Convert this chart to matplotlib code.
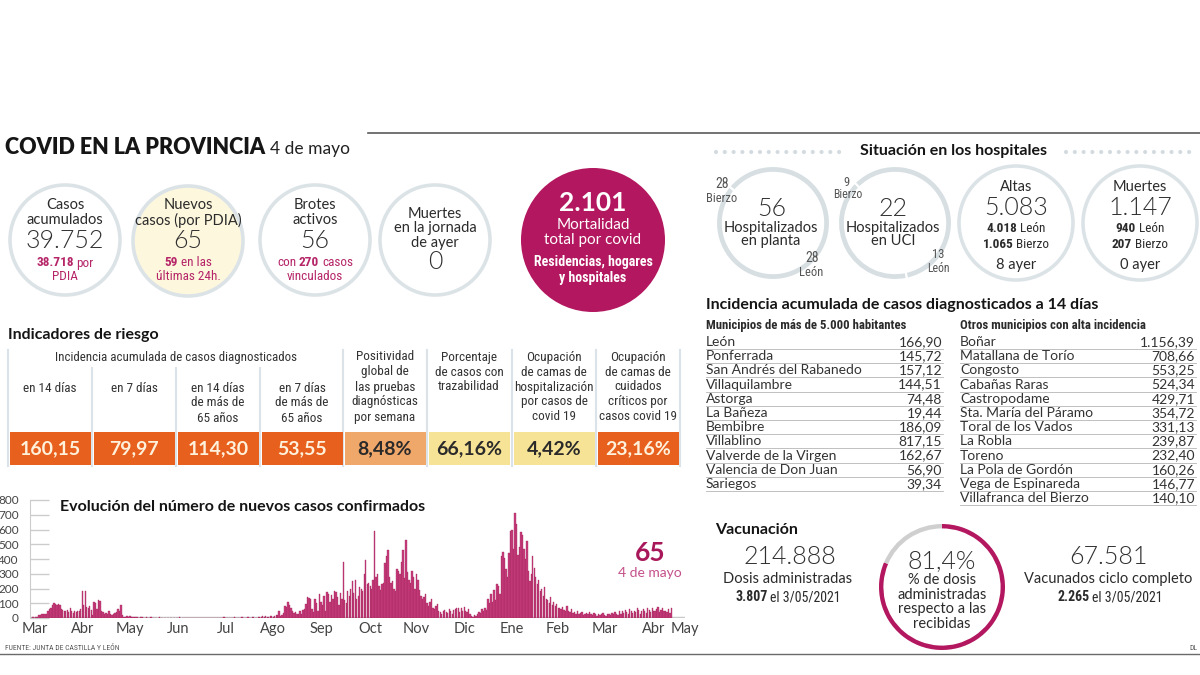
import matplotlib
matplotlib.use('Agg')
import matplotlib.pyplot as plt
from matplotlib.patches import Circle, Rectangle
from matplotlib import font_manager
import numpy as np

names = {f.name for f in font_manager.fontManager.ttflist}
SANS = ['Lato', 'DejaVu Sans']
COND = [n for n in ['Roboto Condensed', 'Liberation Sans Narrow', 'Open Sans Condensed'] if n in names][:1] + ['Lato', 'DejaVu Sans']
plt.rcParams['font.family'] = SANS

# ---------------- data ----------------
mar20 = [2, 5, 3, 8, 10, 20, 22, 25, 25, 28, 30, 45, 60, 70, 85, 105, 95, 90, 92, 88, 60, 55, 50, 45, 55, 40, 65, 50, 35, 45, 40]
apr20 = [50, 45, 60, 185, 90, 185, 75, 65, 80, 55, 20, 110, 100, 60, 120, 115, 45, 40, 30, 35, 25, 45, 30, 20, 25, 35, 40, 60, 50, 90]
may20 = [20, 10, 8, 12, 6, 15, 8, 5, 6, 4, 5, 3, 4, 6, 3, 2, 4, 3, 2, 5, 3, 2, 1, 3, 2, 4, 2, 1, 3, 2, 2]
jun20 = [2, 1, 3, 2, 0, 1, 2, 4, 1, 2, 3, 1, 0, 2, 1, 3, 2, 1, 0, 2, 1, 1, 3, 2, 0, 1, 2, 1, 3, 2]
jul20 = [2, 1, 0, 3, 2, 1, 2, 4, 1, 2, 3, 2, 1, 3, 5, 2, 1, 2, 3, 4, 2, 1, 3, 6, 2, 3, 4, 5, 3, 2, 6]
aug20 = [5, 8, 15, 10, 12, 8, 10, 15, 12, 10, 14, 18, 20, 50, 15, 20, 35, 80, 75, 110, 90, 70, 50, 35, 40, 30, 25, 45, 30, 55, 60]
sep20 = [95, 140, 135, 130, 60, 40, 130, 100, 50, 165, 110, 90, 150, 50, 175, 160, 110, 155, 130, 180, 175, 140, 90, 170, 130, 380, 120, 100, 180, 150]
oct20 = [200, 250, 170, 260, 130, 150, 210, 200, 180, 300, 395, 230, 240, 220, 200, 260, 590, 280, 300, 220, 190, 230, 240, 370, 420, 460, 280, 240, 250, 200, 180]
nov20 = [330, 320, 300, 380, 460, 270, 530, 310, 260, 240, 320, 280, 200, 300, 260, 190, 150, 130, 140, 160, 100, 80, 110, 130, 70, 60, 80, 95, 50, 40]
dec20 = [30, 45, 55, 40, 35, 60, 45, 30, 55, 60, 65, 65, 40, 70, 50, 75, 45, 40, 60, 30, 15, 10, 20, 15, 30, 40, 35, 60, 45, 70, 55]
jan21 = [130, 100, 160, 110, 190, 120, 230, 220, 160, 420, 450, 410, 330, 280, 440, 590, 600, 470, 710, 640, 430, 480, 580, 560, 470, 400, 520, 320, 250, 300, 420]
feb21 = [340, 280, 230, 260, 180, 200, 150, 210, 130, 120, 100, 140, 90, 110, 80, 95, 70, 65, 60, 75, 55, 50, 80, 45, 40, 60, 35, 40]
mar21 = [30, 45, 25, 35, 40, 20, 30, 35, 25, 40, 30, 20, 35, 25, 15, 30, 20, 25, 35, 20, 15, 25, 30, 20, 35, 25, 40, 30, 20, 45, 30]
apr21 = [50, 35, 55, 40, 30, 60, 45, 35, 50, 40, 65, 55, 30, 45, 60, 50, 35, 65, 55, 40, 70, 50, 45, 60, 75, 40, 55, 70, 45, 50]
may21 = [40, 60, 35, 65]
daily_cases = (mar20 + apr20 + may20 + jun20 + jul20 + aug20 + sep20 + oct20 + nov20
               + dec20 + jan21 + feb21 + mar21 + apr21 + may21)

month_labels = ['Mar', 'Abr', 'May', 'Jun', 'Jul', 'Ago', 'Sep', 'Oct', 'Nov', 'Dic',
                'Ene', 'Feb', 'Mar', 'Abr', 'May']
month_tick_pos = [2, 34, 66, 98, 130, 162, 194, 227, 258, 290, 322, 353, 384, 417, 438]
y_ticks = [0, 100, 200, 300, 400, 500, 600, 700, 800]

# summary circles
casos_acumulados = '39.752'
casos_pdia = '38.718'
nuevos_casos = '65'
nuevos_24h = '59'
brotes = '56'
brotes_casos = '270'
muertes_ayer = '0'
mortalidad = '2.101'

# hospitals
planta = [28, 28]   # Bierzo, León
uci = [9, 13]       # Bierzo, León
altas = ['5.083', '4.018', '1.065', '8']
muertes_h = ['1.147', '940', '207', '0']

# risk indicators
ind_labels = [['en 14 días'], ['en 7 días'], ['en 14 días', 'de más de', '65 años'],
              ['en 7 días', 'de más de', '65 años'],
              ['Positividad', 'global de', 'las pruebas', 'diagnósticas', 'por semana'],
              ['Porcentaje', 'de casos con', 'trazabilidad'],
              ['Ocupación', 'de camas de', 'hospitalización', 'por casos de', 'covid 19'],
              ['Ocupación', 'de camas de', 'cuidados', 'críticos por', 'casos covid 19']]
ind_values = ['160,15', '79,97', '114,30', '53,55', '8,48%', '66,16%', '4,42%', '23,16%']
ind_colors = ['#e8601d', '#e8601d', '#e8601d', '#e8601d', '#f0a76a', '#f6e395', '#f6e395', '#e8601d']
ind_text_colors = ['#fff1db', '#fff1db', '#fff1db', '#fff1db', '#2a2a2a', '#2a2a2a', '#2a2a2a', '#fff1db']

# incidence tables
muni_big = ['León', 'Ponferrada', 'San Andrés del Rabanedo', 'Villaquilambre', 'Astorga',
            'La Bañeza', 'Bembibre', 'Villablino', 'Valverde de la Virgen',
            'Valencia de Don Juan', 'Sariegos']
muni_big_vals = ['166,90', '145,72', '157,12', '144,51', '74,48', '19,44', '186,09',
                 '817,15', '162,67', '56,90', '39,34']
muni_other = ['Boñar', 'Matallana de Torío', 'Congosto', 'Cabañas Raras', 'Castropodame',
              'Sta. María del Páramo', 'Toral de los Vados', 'La Robla', 'Toreno',
              'La Pola de Gordón', 'Vega de Espinareda', 'Villafranca del Bierzo']
muni_other_vals = ['1.156,39', '708,66', '553,25', '524,34', '429,71', '354,72', '331,13',
                   '239,87', '232,40', '160,26', '146,77', '140,10']

# vaccination
dosis = '214.888'
dosis_dia = '3.807'
pct_dosis = 81.4
ciclo = '67.581'
ciclo_dia = '2.265'

# ---------------- styles ----------------
DARK = '#2b2b2b'
NUM = '#303030'
NUMW = 300
MAG = '#b3175f'
MAG_T = '#b52568'
RING = '#dce3e7'
W, H = 1200, 675

fig = plt.figure(figsize=(12, 6.75), dpi=100)
ax = fig.add_axes([0, 0, 1, 1])
ax.set_xlim(0, W)
ax.set_ylim(H, 0)
ax.axis('off')
ax.set_zorder(10)
renderer = fig.canvas.get_renderer()


def T(x, y, s, size, weight='normal', color=DARK, ha='center', family=None, va='center', **kw):
    return ax.text(x, y, s, fontsize=size, fontweight=weight, color=color, ha=ha, va=va,
                   family=family or SANS, **kw)


def rich(x, y, parts, ha='center', va='center'):
    texts = []
    for s, size, weight, color, fam in parts:
        texts.append(ax.text(0, y, s, fontsize=size, fontweight=weight, color=color,
                             ha='left', va=va, family=fam))
    widths = [t.get_window_extent(renderer).width for t in texts]
    gaps = [p[1] * 1.389 * 0.22 for p in parts]
    total = sum(widths) + sum(gaps[:-1])
    start = x - total / 2 if ha == 'center' else x
    for t, w, g in zip(texts, widths, gaps):
        t.set_x(start)
        start += w + g


def ring(cx, cy, r, lw=2.6, fc='none', ec=RING):
    ax.add_patch(Circle((cx, cy), r, facecolor=fc, edgecolor=ec, linewidth=lw, zorder=0.5))


def pie_axes(cx, cy, r):
    a = fig.add_axes([(cx - r) / W, (H - cy - r) / H, 2 * r / W, 2 * r / H])
    a.set_xlim(-1, 1)
    a.set_ylim(-1, 1)
    a.axis('off')
    a.set_zorder(1)
    return a


# ---------------- header ----------------
rich(5, 154, [('COVID EN LA PROVINCIA', 15.5, 'heavy', '#151515', SANS),
              ('4 de mayo', 12.5, 'normal', '#222222', SANS)], ha='left', va='baseline')
ax.plot([368, W], [133, 133], color='#5a5a5a', lw=1.2)
ax.plot([0, W], [654, 654], color='#6a6a6a', lw=1.0)
T(5, 648, 'FUENTE: JUNTA DE CASTILLA Y LEÓN', 5.5, color='#555555', ha='left', family=COND)
T(1197, 648, 'DL', 5.5, color='#555555', ha='right', family=COND)

# ---------------- summary circles ----------------
ring(65, 240, 55)
T(65, 205, 'Casos', 10.5)
T(65, 220, 'acumulados', 10.5)
T(65, 241, casos_acumulados, 18, NUMW, color=NUM)
rich(65, 263, [(casos_pdia, 9.5, 'bold', MAG_T, COND), ('por', 9.5, 'normal', MAG_T, COND)])
T(65, 277, 'PDIA', 9.5, color=MAG_T, family=COND)

ring(188, 241, 55, fc='#fdf7de')
T(188, 205, 'Nuevos', 10.5)
T(188, 220, 'casos (por PDIA)', 10.5)
T(188, 241, nuevos_casos, 18, NUMW, color=NUM)
rich(188, 263, [(nuevos_24h, 9.5, 'bold', MAG_T, COND), ('en las', 9.5, 'normal', MAG_T, COND)])
T(188, 277, 'últimas 24h.', 9.5, color=MAG_T, family=COND)

ring(315, 240, 55)
T(315, 205, 'Brotes', 10.5)
T(315, 220, 'activos', 10.5)
T(315, 241, brotes, 18, NUMW, color=NUM)
rich(315, 263, [('con', 9.5, 'normal', MAG_T, COND), (brotes_casos, 9.5, 'bold', MAG_T, COND),
                ('casos', 9.5, 'normal', MAG_T, COND)])
T(315, 277, 'vinculados', 9.5, color=MAG_T, family=COND)

ring(435, 240, 55)
T(435, 214, 'Muertes', 10.5)
T(435, 228, 'en la jornada', 10.5)
T(435, 243, 'de ayer', 10.5)
T(435, 262, muertes_ayer, 18, NUMW, color=NUM)

ax.add_patch(Circle((593, 240), 72, facecolor=MAG, edgecolor='none', zorder=0.5))
T(593, 203, mortalidad, 19, 'bold', color='white')
T(593, 225, 'Mortalidad', 11, color='white')
T(593, 240, 'total por covid', 11, color='white')
T(593, 262, 'Residencias, hogares', 10, 'bold', color='white', family=COND)
T(593, 278, 'y hospitales', 10, 'bold', color='white', family=COND)

# ---------------- hospitals ----------------
T(953, 151, 'Situación en los hospitales', 11.5, 'bold', color='#151515')
for x0, x1 in [(716, 842), (1066, 1190)]:
    ax.plot([x0, x1], [152, 152], color='#d3dbe0', lw=3.0, dashes=(0.01, 2.1),
            dash_capstyle='round')

GREYRING = '#d7dfe3'
pa = pie_axes(773, 223, 57)
pa.pie(planta, radius=1, startangle=140, colors=[GREYRING, GREYRING],
       wedgeprops=dict(width=0.12, edgecolor='white', linewidth=1.5))
pa.set_xlim(-1, 1); pa.set_ylim(-1, 1)
T(722, 184, str(planta[0]), 10, color='#555555', family=COND)
T(722, 199, 'Bierzo', 9, color='#555555', family=COND)
T(812, 258, str(planta[1]), 10, color='#555555', family=COND)
T(811, 272, 'León', 9, color='#555555', family=COND)
T(772, 209, '56', 18, NUMW, color=NUM)
T(771, 228, 'Hospitalizados', 10.5)
T(771, 241, 'en planta', 10.5)

pb = pie_axes(895, 223, 57)
pb.pie(uci, radius=1, startangle=135, colors=[GREYRING, GREYRING],
       wedgeprops=dict(width=0.12, edgecolor='white', linewidth=1.5))
pb.set_xlim(-1, 1); pb.set_ylim(-1, 1)
T(846, 182, str(uci[0]), 9, color='#555555', family=COND)
T(848, 195, 'Bierzo', 8.5, color='#555555', family=COND)
T(938, 255, str(uci[1]), 9, color='#555555', family=COND)
T(938, 268, 'León', 8.5, color='#555555', family=COND)
T(893, 209, '22', 18, NUMW, color=NUM)
T(893, 228, 'Hospitalizados', 10.5)
T(893, 241, 'en UCI', 10.5)

ring(1016, 223, 57)
T(1016, 187, 'Altas', 10.5)
T(1016, 208, altas[0], 18, NUMW, color=NUM)
rich(1016, 229, [(altas[1], 9.5, 'bold', DARK, COND), ('León', 9.5, 'normal', DARK, COND)])
rich(1016, 244, [(altas[2], 9.5, 'bold', DARK, COND), ('Bierzo', 9.5, 'normal', DARK, COND)])
T(1016, 265, altas[3] + ' ayer', 10.5)

ring(1140, 223, 57)
T(1140, 187, 'Muertes', 10.5)
T(1140, 208, muertes_h[0], 18, NUMW, color=NUM)
rich(1140, 229, [(muertes_h[1], 9.5, 'bold', DARK, COND), ('León', 9.5, 'normal', DARK, COND)])
rich(1140, 244, [(muertes_h[2], 9.5, 'bold', DARK, COND), ('Bierzo', 9.5, 'normal', DARK, COND)])
T(1140, 265, muertes_h[3] + ' ayer', 10.5)

# ---------------- risk indicators ----------------
T(8, 335, 'Indicadores de riesgo', 11.5, 'bold', ha='left', color='#151515')
T(176, 357, 'Incidencia acumulada de casos diagnosticados', 9.3, color='#333333', family=COND)
sep_x = [8, 92, 176, 260, 343, 427, 512, 596, 680]
for i, x in enumerate(sep_x):
    top = 368 if i in (1, 2, 3) else 350
    ax.plot([x, x], [top, 466], color='#dbe3e8', lw=1.5, zorder=0.5)
box_left = [10, 94, 178, 262, 345, 429, 514, 598]
for i, (lab, val, c, tc) in enumerate(zip(ind_labels, ind_values, ind_colors, ind_text_colors)):
    cx = box_left[i] + 40
    y0 = 388 if i < 4 else 357
    for j, line in enumerate(lab):
        T(cx, y0 + 15 * j, line, 9.5, color='#333333', family=COND)
    ax.add_patch(Rectangle((box_left[i], 432), 81, 33, facecolor=c, edgecolor='none', zorder=0.6))
    T(cx, 449, val, 14, 'bold', color=tc)

# ---------------- incidence tables ----------------
T(706, 305, 'Incidencia acumulada de casos diagnosticados a 14 días', 11.5, 'bold',
  ha='left', color='#151515')
T(706, 325, 'Municipios de más de 5.000 habitantes', 9.2, 'bold', ha='left', family=COND)
T(960, 325, 'Otros municipios con alta incidencia', 9.2, 'bold', ha='left', family=COND)
for names_, vals, x0, x1 in [(muni_big, muni_big_vals, 706, 942),
                             (muni_other, muni_other_vals, 960, 1195)]:
    for k, (n, v) in enumerate(zip(names_, vals)):
        y = 342 + 14.2 * k
        T(x0, y, n, 10, ha='left', color='#333333')
        T(x1, y, v, 10, ha='right', color='#333333')
        ax.plot([x0, x1 + 1], [y + 7, y + 7], color='#b5b5b5', lw=0.6)

# ---------------- vaccination ----------------
T(715, 530, 'Vacunación', 11.5, 'bold', ha='left', color='#151515')
T(790, 557, dosis, 18, NUMW, color=NUM)
T(788, 579, 'Dosis administradas', 10.5)
rich(788, 597, [(dosis_dia, 10, 'bold', DARK, COND), ('el 3/05/2021', 10, 'normal', DARK, COND)])

pv = pie_axes(942, 587, 63)
pv.pie([pct_dosis, 100 - pct_dosis], radius=1, startangle=90, counterclock=False,
       colors=[MAG, '#cfcfcf'], wedgeprops=dict(width=0.07, edgecolor='none'))
pv.set_xlim(-1, 1); pv.set_ylim(-1, 1)
T(942, 562, '81,4%', 18, NUMW, color=NUM)
for j, line in enumerate(['% de dosis', 'administradas', 'respecto a las', 'recibidas']):
    T(942, 580 + 14.7 * j, line, 10.5)

T(1108, 557, ciclo, 18, NUMW, color=NUM)
T(1108, 579, 'Vacunados ciclo completo', 10.5)
rich(1110, 597, [(ciclo_dia, 10, 'bold', DARK, COND), ('el 3/05/2021', 10, 'normal', DARK, COND)])

# ---------------- bar chart ----------------
T(60, 507, 'Evolución del número de nuevos casos confirmados', 11.5, 'bold', ha='left',
  color='#151515')
T(650, 553, daily_cases[-1], 19, 'bold', color='#a8175a')
T(650, 573, '4 de mayo', 10, color='#c4508a')

bx = fig.add_axes([30 / W, (H - 618) / H, 655 / W, 118 / H])
bx.patch.set_alpha(0)
bx.set_zorder(2)
days = np.arange(len(daily_cases))
bx.axhline(0, color='#c9c9c9', lw=2.5, zorder=0.5)
bx.bar(days, daily_cases, width=0.9, color='#c93d7c', edgecolor='#a0245a', linewidth=0.25,
       zorder=2)
bx.set_xlim(-1, len(daily_cases) + 1)
bx.set_ylim(0, 800)
for s in ['top', 'right', 'bottom']:
    bx.spines[s].set_visible(False)
bx.spines['left'].set_color('#cccccc')
bx.set_yticks(y_ticks)
bx.set_yticklabels([str(v) for v in y_ticks])
bx.tick_params(axis='y', direction='in', length=14, color='#cccccc', width=1, pad=8,
               labelsize=8.5, labelcolor='#444444')
bx.set_xticks(month_tick_pos)
bx.set_xticklabels(month_labels)
bx.tick_params(axis='x', length=0, pad=3, labelsize=10.5, labelcolor='#444444')
for lab in bx.get_xticklabels():
    lab.set_clip_on(False)

fig.savefig('out.png', dpi=100)
